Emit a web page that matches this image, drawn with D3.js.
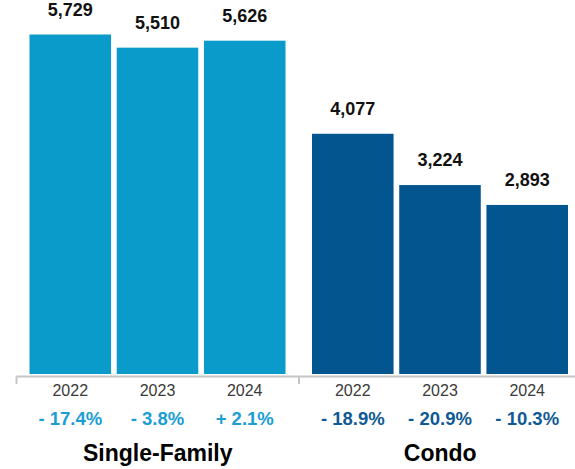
<!DOCTYPE html>
<html>
<head>
<meta charset="utf-8">
<script src="https://cdn.jsdelivr.net/npm/d3@7"></script>
<style>
  html, body { margin: 0; padding: 0; background: #ffffff; }
  svg { display: block; font-family: "Liberation Sans", Arial, Helvetica, sans-serif; }
</style>
</head>
<body>
<svg id="chart" width="575" height="469"></svg>
<script>
const groups = ["Single-Family", "Condo"];
const years = ["2022", "2023", "2024"];
const singleFamilyValues = [5729, 5510, 5626];
const condoValues = [4077, 3224, 2893];
const singleFamilyChanges = ["- 17.4%", "- 3.8%", "+ 2.1%"];
const condoChanges = ["- 18.9%", "- 20.9%", "- 10.3%"];

const groupColors = { "Single-Family": "#0a9bcb", "Condo": "#02558f" };
const changeColors = { "Single-Family": "#1a9ed3", "Condo": "#0f5a94" };

const data = groups.map((g, gi) => ({
  group: g,
  values: years.map((yr, i) => ({
    year: yr,
    value: gi === 0 ? singleFamilyValues[i] : condoValues[i],
    change: gi === 0 ? singleFamilyChanges[i] : condoChanges[i]
  }))
}));

const svg = d3.select("#chart");
const baseY = 374;

const x0 = d3.scaleBand().domain(groups).range([16.5, 581.5]).padding(0);
const x1 = d3.scaleBand().domain(years).range([13, 269]).paddingInner(0.065).paddingOuter(0);
const y = d3.scaleLinear().domain([80, 5729]).range([baseY, 34.5]);

const fmt = d3.format(",");

const g = svg.selectAll("g.group").data(data).join("g")
  .attr("class", "group")
  .attr("transform", d => `translate(${x0(d.group)},0)`);

g.selectAll("rect").data(d => d.values.map(v => ({...v, group: d.group}))).join("rect")
  .attr("x", d => x1(d.year))
  .attr("width", x1.bandwidth())
  .attr("y", d => y(d.value))
  .attr("height", d => baseY - y(d.value))
  .attr("fill", d => groupColors[d.group]);

g.selectAll("text.val").data(d => d.values).join("text")
  .attr("class", "val")
  .attr("x", d => x1(d.year) + x1.bandwidth() / 2)
  .attr("y", d => y(d.value) - 19)
  .attr("text-anchor", "middle")
  .attr("font-size", "18px")
  .attr("font-weight", "bold")
  .attr("fill", "#111")
  .text(d => fmt(d.value));

g.selectAll("text.year").data(d => d.values).join("text")
  .attr("class", "year")
  .attr("x", d => x1(d.year) + x1.bandwidth() / 2)
  .attr("y", 396)
  .attr("text-anchor", "middle")
  .attr("font-size", "16px")
  .attr("fill", "#3a3a3a")
  .text(d => d.year);

g.selectAll("text.chg").data(d => d.values.map(v => ({...v, group: d.group}))).join("text")
  .attr("class", "chg")
  .attr("x", d => x1(d.year) + x1.bandwidth() / 2)
  .attr("y", 425)
  .attr("text-anchor", "middle")
  .attr("font-size", "18.5px")
  .attr("font-weight", "bold")
  .attr("fill", d => changeColors[d.group])
  .text(d => d.change);

g.append("text")
  .attr("x", x0.bandwidth() / 2)
  .attr("y", 461)
  .attr("text-anchor", "middle")
  .attr("font-size", "23px")
  .attr("font-weight", "bold")
  .attr("fill", "#000")
  .text(d => d.group);

// axis baseline with group boundary ticks
const axisY = 376.5;
svg.append("line")
  .attr("x1", x0.range()[0]).attr("x2", 575)
  .attr("y1", axisY).attr("y2", axisY)
  .attr("stroke", "#c6c6c6").attr("stroke-width", 2);

const boundaries = groups.map(d => x0(d)).concat([x0.range()[1]]);
svg.selectAll("line.tick").data(boundaries).join("line")
  .attr("class", "tick")
  .attr("x1", d => d).attr("x2", d => d)
  .attr("y1", axisY).attr("y2", 384)
  .attr("stroke", "#c6c6c6").attr("stroke-width", 2);
</script>
</body>
</html>
